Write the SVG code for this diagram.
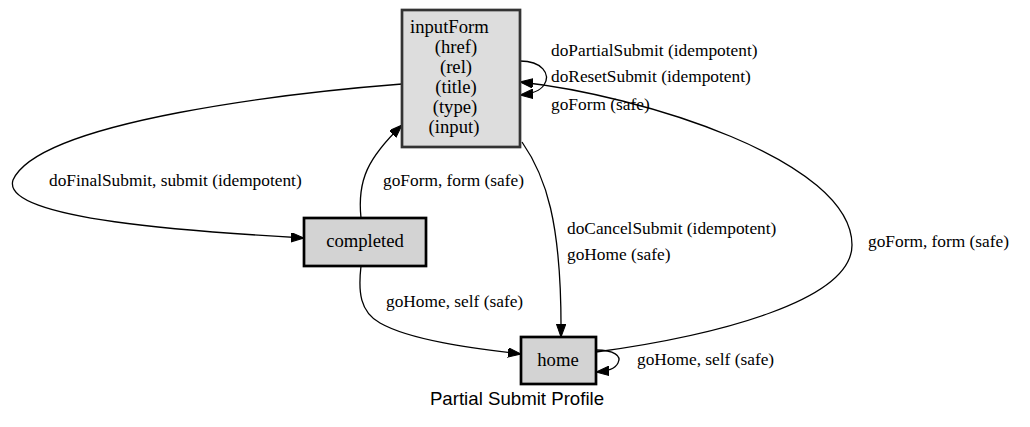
<svg xmlns="http://www.w3.org/2000/svg" width="1030" height="427" viewBox="0 0 1030 427">
<style>
.node rect{stroke:#000;stroke-width:2.7}
.edges path{fill:none;stroke:#000;stroke-width:1.3;marker-end:url(#ah)}
</style>
<defs>
<marker id="ah" markerUnits="userSpaceOnUse" markerWidth="14" markerHeight="10" refX="13" refY="4.7" orient="auto">
<path d="M0,0 L13,4.7 L0,9.4 z" fill="#000" stroke="#000" stroke-width="1"/>
</marker>
</defs>
<rect width="1030" height="427" fill="#fff"/>
<g class="edges">
<path d="M402,84 C300,92 40,120 13,180 C0,220 200,232 304,238"/>
<path d="M361,218 C357,180 368,158 402,125"/>
<path d="M520,61 C542,61 551,74 544,85 C540,91 531,94 520,95"/>
<path d="M522,142 C545,175 562,220 561,337"/>
<path d="M596,352 C720,335 852,300 852,245 C852,160 640,95 520,82"/>
<path d="M361,266 C358,292 360,312 380,323 C410,340 470,348 521,354"/>
<path d="M596,350 C614,350 622,356 618,363 C615,369 608,371 596,372"/>
</g>
<g class="labels" font-family="Liberation Serif, serif" font-size="17.33">
<text x="49" y="186">doFinalSubmit, submit (idempotent)</text>
<text x="383" y="186">goForm, form (safe)</text>
<text x="551" y="56">doPartialSubmit (idempotent)</text>
<text x="551" y="82">doResetSubmit (idempotent)</text>
<text x="551" y="110">goForm (safe)</text>
<text x="567" y="234">doCancelSubmit (idempotent)</text>
<text x="567" y="260">goHome (safe)</text>
<text x="868" y="247">goForm, form (safe)</text>
<text x="386" y="307">goHome, self (safe)</text>
<text x="637" y="365">goHome, self (safe)</text>
</g>
<g id="inputForm" class="node" font-family="Liberation Serif, serif" font-size="18.67">
<rect x="402" y="10" width="118" height="137" fill="#dddddd" style="stroke:#333"/>
<text x="410" y="33">inputForm</text>
<text x="456" y="53" text-anchor="middle">(href)</text>
<text x="456" y="73" text-anchor="middle">(rel)</text>
<text x="456" y="93" text-anchor="middle">(title)</text>
<text x="455" y="113" text-anchor="middle">(type)</text>
<text x="454" y="133" text-anchor="middle">(input)</text>
</g>
<g id="completed" class="node" font-family="Liberation Serif, serif" font-size="18.67">
<rect x="304" y="218" width="122" height="48" fill="#d3d3d3"/>
<text x="365" y="247" text-anchor="middle">completed</text>
</g>
<g id="home" class="node" font-family="Liberation Serif, serif" font-size="18.67">
<rect x="521" y="337" width="75" height="47" fill="#d3d3d3"/>
<text x="558" y="366" text-anchor="middle">home</text>
</g>
<text x="517" y="405" text-anchor="middle" font-family="Liberation Sans, sans-serif" font-size="18.67">Partial Submit Profile</text>
</svg>
